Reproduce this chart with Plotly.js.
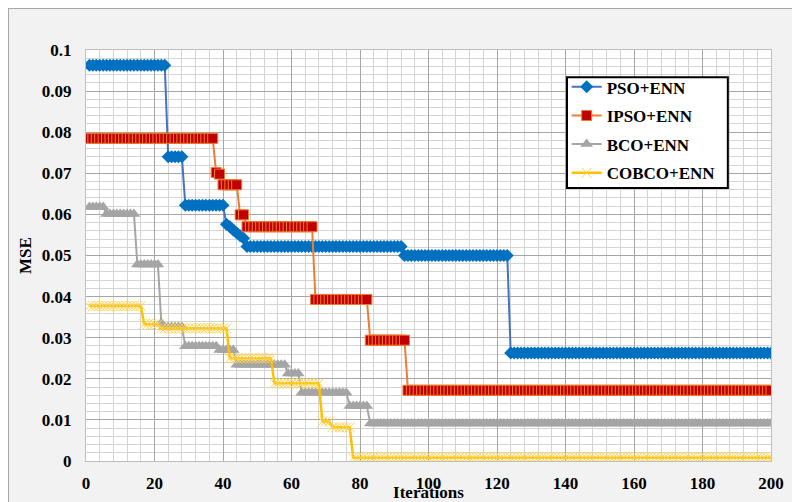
<!DOCTYPE html>
<html>
<head>
<meta charset="utf-8">
<script src="https://cdn.plot.ly/plotly-3.0.1.min.js"></script>
<style>
  html, body { margin: 0; padding: 0; background: #ffffff; width: 792px; height: 502px; overflow: hidden; }
  #chart { position: absolute; left: 8px; top: 8px; width: 783px; height: 493px;
           border-left: 1px solid #a6a6a6; border-top: 1px solid #a6a6a6; }
</style>
</head>
<body>
<div id="chart"></div>
<script>
// Iterations 1..200
const iterations = [];
for (let i = 1; i <= 200; i++) iterations.push(i);

const seriesNames = ["PSO+ENN", "IPSO+ENN", "BCO+ENN", "COBCO+ENN"];

// MSE values (one per iteration, 1..200)
const psoEnn = [
  0.0963,0.0963,0.0963,0.0963,0.0963,0.0963,0.0963,0.0963,0.0963,0.0963,
  0.0963,0.0963,0.0963,0.0963,0.0963,0.0963,0.0963,0.0963,0.0963,0.0963,
  0.0963,0.0963,0.0963,
  0.074,0.074,0.074,0.074,0.074,
  0.0622,0.0622,0.0622,0.0622,0.0622,0.0622,0.0622,0.0622,0.0622,0.0622,0.0622,0.0622,
  0.0576,0.057,0.0562,0.0555,0.0548,0.0542,
  0.0522,0.0522,0.0522,0.0522,0.0522,0.0522,0.0522,0.0522,0.0522,0.0522,
  0.0522,0.0522,0.0522,0.0522,0.0522,0.0522,0.0522,0.0522,0.0522,0.0522,
  0.0522,0.0522,0.0522,0.0522,0.0522,0.0522,0.0522,0.0522,0.0522,0.0522,
  0.0522,0.0522,0.0522,0.0522,0.0522,0.0522,0.0522,0.0522,0.0522,0.0522,
  0.0522,0.0522,0.0522,0.0522,0.0522,0.0522,
  0.050,0.050,0.050,0.050,0.050,0.050,0.050,0.050,0.050,0.050,
  0.050,0.050,0.050,0.050,0.050,0.050,0.050,0.050,0.050,0.050,
  0.050,0.050,0.050,0.050,0.050,0.050,0.050,0.050,0.050,0.050,0.050,
  0.0263,0.0263,0.0263,0.0263,0.0263,0.0263,0.0263,0.0263,0.0263,0.0263,
  0.0263,0.0263,0.0263,0.0263,0.0263,0.0263,0.0263,0.0263,0.0263,0.0263,
  0.0263,0.0263,0.0263,0.0263,0.0263,0.0263,0.0263,0.0263,0.0263,0.0263,
  0.0263,0.0263,0.0263,0.0263,0.0263,0.0263,0.0263,0.0263,0.0263,0.0263,
  0.0263,0.0263,0.0263,0.0263,0.0263,0.0263,0.0263,0.0263,0.0263,0.0263,
  0.0263,0.0263,0.0263,0.0263,0.0263,0.0263,0.0263,0.0263,0.0263,0.0263,
  0.0263,0.0263,0.0263,0.0263,0.0263,0.0263,0.0263,0.0263,0.0263,0.0263,
  0.0263,0.0263,0.0263,0.0263,0.0263,0.0263,0.0263
];

const ipsoEnn = [
  0.0785,0.0785,0.0785,0.0785,0.0785,0.0785,0.0785,0.0785,0.0785,0.0785,
  0.0785,0.0785,0.0785,0.0785,0.0785,0.0785,0.0785,0.0785,0.0785,0.0785,
  0.0785,0.0785,0.0785,0.0785,0.0785,0.0785,0.0785,0.0785,0.0785,0.0785,
  0.0785,0.0785,0.0785,0.0785,0.0785,0.0785,0.0785,
  0.0702,0.0698,
  0.0672,0.0672,0.0672,0.0672,0.0672,
  0.0599,0.0599,
  0.057,0.057,0.057,0.057,0.057,0.057,0.057,0.057,0.057,0.057,
  0.057,0.057,0.057,0.057,0.057,0.057,0.057,0.057,0.057,0.057,
  0.0393,0.0393,0.0393,0.0393,0.0393,0.0393,0.0393,0.0393,
  0.0393,0.0393,0.0393,0.0393,0.0393,0.0393,0.0393,0.0393,
  0.0294,0.0294,0.0294,0.0294,0.0294,0.0294,0.0294,0.0294,0.0294,0.0294,0.0294,
  0.0172,0.0172,0.0172,0.0172,0.0172,0.0172,0.0172,0.0172,0.0172,0.0172,
  0.0172,0.0172,0.0172,0.0172,0.0172,0.0172,0.0172,0.0172,0.0172,0.0172,
  0.0172,0.0172,0.0172,0.0172,0.0172,0.0172,0.0172,0.0172,0.0172,0.0172,
  0.0172,0.0172,0.0172,0.0172,0.0172,0.0172,0.0172,0.0172,0.0172,0.0172,
  0.0172,0.0172,0.0172,0.0172,0.0172,0.0172,0.0172,0.0172,0.0172,0.0172,
  0.0172,0.0172,0.0172,0.0172,0.0172,0.0172,0.0172,0.0172,0.0172,0.0172,
  0.0172,0.0172,0.0172,0.0172,0.0172,0.0172,0.0172,0.0172,0.0172,0.0172,
  0.0172,0.0172,0.0172,0.0172,0.0172,0.0172,0.0172,0.0172,0.0172,0.0172,
  0.0172,0.0172,0.0172,0.0172,0.0172,0.0172,0.0172,0.0172,0.0172,0.0172,
  0.0172,0.0172,0.0172,0.0172,0.0172,0.0172,0.0172,0.0172,0.0172,0.0172,
  0.0172,0.0172,0.0172,0.0172,0.0172,0.0172,0.0172
];

const bcoEnn = [
  0.0618,0.0618,0.0618,0.0618,0.0618,
  0.0601,0.0601,0.0601,0.0601,0.0601,0.0601,0.0601,0.0601,0.0601,
  0.0478,0.0478,0.0478,0.0478,0.0478,0.0478,0.0478,
  0.0335,
  0.0326,0.0326,0.0326,0.0326,0.0326,0.0326,
  0.0279,0.0279,0.0279,0.0279,0.0279,0.0279,0.0279,0.0279,0.0279,0.0279,
  0.027,0.027,0.027,0.027,0.027,
  0.0234,0.0234,0.0234,0.0234,0.0234,0.0234,0.0234,0.0234,0.0234,0.0234,
  0.0234,0.0234,0.0234,0.0234,0.0234,
  0.0213,0.0213,0.0213,0.0213,
  0.0166,0.0166,0.0166,0.0166,0.0166,0.0166,0.0166,0.0166,0.0166,0.0166,
  0.0166,0.0166,0.0166,0.0166,
  0.0134,0.0134,0.0134,0.0134,0.0134,0.0134,
  0.0091,0.0091,0.0091,0.0091,0.0091,0.0091,0.0091,0.0091,0.0091,0.0091,
  0.0091,0.0091,0.0091,0.0091,0.0091,0.0091,0.0091,0.0091,0.0091,0.0091,
  0.0091,0.0091,0.0091,0.0091,0.0091,0.0091,0.0091,0.0091,0.0091,0.0091,
  0.0091,0.0091,0.0091,0.0091,0.0091,0.0091,0.0091,0.0091,0.0091,0.0091,
  0.0091,0.0091,0.0091,0.0091,0.0091,0.0091,0.0091,0.0091,0.0091,0.0091,
  0.0091,0.0091,0.0091,0.0091,0.0091,0.0091,0.0091,0.0091,0.0091,0.0091,
  0.0091,0.0091,0.0091,0.0091,0.0091,0.0091,0.0091,0.0091,0.0091,0.0091,
  0.0091,0.0091,0.0091,0.0091,0.0091,0.0091,0.0091,0.0091,0.0091,0.0091,
  0.0091,0.0091,0.0091,0.0091,0.0091,0.0091,0.0091,0.0091,0.0091,0.0091,
  0.0091,0.0091,0.0091,0.0091,0.0091,0.0091,0.0091,0.0091,0.0091,0.0091,
  0.0091,0.0091,0.0091,0.0091,0.0091,0.0091,0.0091,0.0091,0.0091,0.0091,
  0.0091,0.0091,0.0091,0.0091,0.0091,0.0091,0.0091,0.0091
];

const cobcoEnn = [
  0.0377,0.0377,0.0377,0.0377,0.0377,0.0377,0.0377,0.0377,
  0.0377,0.0377,0.0377,0.0377,0.0377,0.0377,0.0377,0.0377,
  0.0333,0.0333,0.0333,0.0333,0.0333,
  0.0323,0.0323,0.0323,0.0323,0.0323,0.0323,0.0323,0.0323,0.0323,0.0323,
  0.0323,0.0323,0.0323,0.0323,0.0323,0.0323,0.0323,0.0323,0.0323,0.0323,
  0.025,0.025,0.025,0.025,0.025,0.025,0.025,0.025,0.025,0.025,0.025,0.025,0.025,
  0.0189,0.0189,0.0189,0.0189,0.0189,0.0189,0.0189,
  0.0189,0.0189,0.0189,0.0189,0.0189,0.0189,0.0189,
  0.0096,0.0096,0.0096,
  0.0082,0.0082,0.0082,0.0082,0.0082,0.0082,
  0.0008,0.0008,0.0008,0.0008,0.0008,0.0008,0.0008,0.0008,0.0008,0.0008,
  0.0008,0.0008,0.0008,0.0008,0.0008,0.0008,0.0008,0.0008,0.0008,0.0008,
  0.0008,0.0008,0.0008,0.0008,0.0008,0.0008,0.0008,0.0008,0.0008,0.0008,
  0.0008,0.0008,0.0008,0.0008,0.0008,0.0008,0.0008,0.0008,0.0008,0.0008,
  0.0008,0.0008,0.0008,0.0008,0.0008,0.0008,0.0008,0.0008,0.0008,0.0008,
  0.0008,0.0008,0.0008,0.0008,0.0008,0.0008,0.0008,0.0008,0.0008,0.0008,
  0.0008,0.0008,0.0008,0.0008,0.0008,0.0008,0.0008,0.0008,0.0008,0.0008,
  0.0008,0.0008,0.0008,0.0008,0.0008,0.0008,0.0008,0.0008,0.0008,0.0008,
  0.0008,0.0008,0.0008,0.0008,0.0008,0.0008,0.0008,0.0008,0.0008,0.0008,
  0.0008,0.0008,0.0008,0.0008,0.0008,0.0008,0.0008,0.0008,0.0008,0.0008,
  0.0008,0.0008,0.0008,0.0008,0.0008,0.0008,0.0008,0.0008,0.0008,0.0008,
  0.0008,0.0008,0.0008,0.0008,0.0008,0.0008,0.0008,0.0008,0.0008,0.0008,
  0.0008,0.0008,0.0008
];

const xTickVals = [0, 20, 40, 60, 80, 100, 120, 140, 160, 180, 200];
const yTickVals = [0, 0.01, 0.02, 0.03, 0.04, 0.05, 0.06, 0.07, 0.08, 0.09, 0.1];

const FONT = "Liberation Serif, Times New Roman, serif";

const traces = [
  {
    x: iterations, y: psoEnn, name: seriesNames[0], legendgroup: "a",
    type: "scatter", mode: "lines+markers",
    line: { color: "#4472C4", width: 2 },
    marker: { symbol: "diamond", size: 10, color: "#0070C0", line: { width: 0 } }
  },
  {
    x: iterations, y: ipsoEnn, name: seriesNames[1], legendgroup: "b",
    type: "scatter", mode: "lines+markers",
    line: { color: "#ED7D31", width: 2 },
    marker: { symbol: "square", size: 10, color: "#C00000", line: { color: "#ED7D31", width: 1 } }
  },
  {
    x: iterations, y: bcoEnn, name: seriesNames[2], legendgroup: "c",
    type: "scatter", mode: "lines+markers",
    line: { color: "#A5A5A5", width: 2 },
    marker: { symbol: "triangle-up", size: 11, color: "#A5A5A5", line: { width: 0 } }
  },
  {
    x: iterations, y: cobcoEnn, name: seriesNames[3], legendgroup: "d",
    type: "scatter", mode: "lines+markers",
    line: { color: "#FFC000", width: 2.5 },
    marker: { symbol: "x-thin", size: 10, color: "#FFC000", line: { color: "#FFD34D", width: 1 } }
  }
];

const layout = {
  width: 783, height: 493,
  margin: { l: 77, r: 21, t: 41, b: 41 },
  paper_bgcolor: "#f2f2f2",
  plot_bgcolor: "#ffffff",
  font: { family: FONT, size: 17, color: "#000000" },
  showlegend: true,
  legend: {
    x: 0.7017, y: 0.953, xanchor: "left", yanchor: "top",
    bgcolor: "rgba(0,0,0,0)", borderwidth: 0,
    font: { family: FONT, size: 17, color: "#000000", weight: "bold" },
    traceorder: "grouped", tracegroupgap: 3.5,
    itemwidth: 30
  },
  shapes: [
    {
      type: "rect", xref: "paper", yref: "paper", layer: "above",
      x0: 0.7022, x1: 0.937, y0: 0.664, y1: 0.934,
      fillcolor: "#ffffff", line: { color: "#000000", width: 2 }
    }
  ],
  xaxis: {
    range: [0, 200], tickvals: xTickVals, ticks: "",
    showgrid: true, gridcolor: "#a6a6a6", gridwidth: 1,
    minor: { dtick: 4, showgrid: true, gridcolor: "#d4d4d4", gridwidth: 1 },
    showline: true, linecolor: "#bfbfbf", linewidth: 1, mirror: true,
    zeroline: false,
    tickfont: { family: FONT, size: 17, weight: "bold", color: "#000000" },
    ticklabelstandoff: 7,
    title: { text: "Iterations", font: { family: FONT, size: 17, weight: "bold" }, standoff: 1 }
  },
  yaxis: {
    range: [0, 0.1], tickvals: yTickVals, ticks: "",
    showgrid: true, gridcolor: "#a6a6a6", gridwidth: 1,
    minor: { dtick: 0.002, showgrid: true, gridcolor: "#d4d4d4", gridwidth: 1 },
    showline: true, linecolor: "#bfbfbf", linewidth: 1, mirror: true,
    zeroline: false,
    tickfont: { family: FONT, size: 17, weight: "bold", color: "#000000" },
    ticklabelstandoff: 10,
    title: { text: "MSE", font: { family: FONT, size: 17, weight: "bold" }, standoff: 5 }
  }
};

Plotly.newPlot("chart", traces, layout, { displayModeBar: false, staticPlot: true });
</script>
</body>
</html>
